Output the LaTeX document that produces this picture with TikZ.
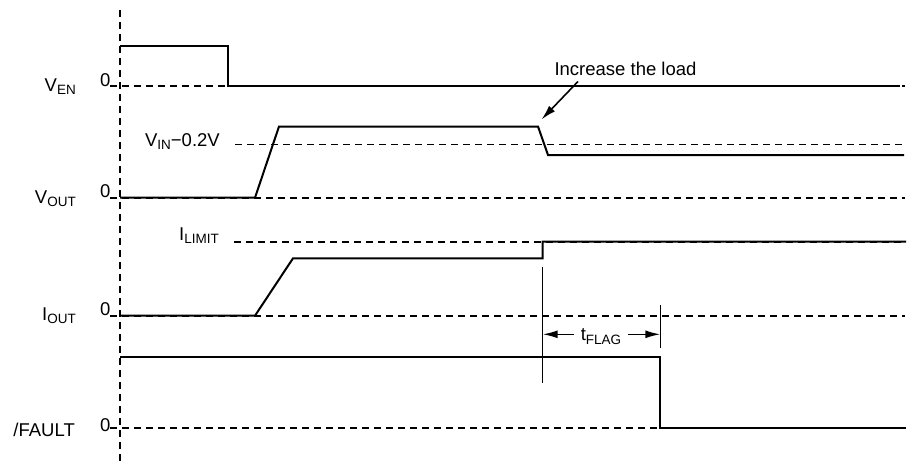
\documentclass[tikz,border=0pt]{standalone}
\usepackage{fontspec}
\setmainfont{Liberation Sans}
\usetikzlibrary{arrows.meta,positioning}
\newcommand{\sgn}[2]{#1\raisebox{-0.35ex}{\fontsize{13.5}{13.5}\selectfont #2}}

\begin{document}
\begin{tikzpicture}[x=1pt,y=-1pt,
font=\fontsize{18.5}{20}\selectfont,
wave/.style={line width=2pt,line join=miter},
ref/.style={line width=1.6pt,dash pattern=on 7pt off 5pt},
ticker/.style={line width=1.3pt},
signame/.style={anchor=base east,inner sep=0pt},
zerolab/.style={anchor=south east,inner sep=0pt},
oneway/.style={-{Latex[length=15pt,width=8pt]},line width=1.6pt},
scale=1]
    \useasboundingbox (0,0) rectangle (907,461);
    % Draw time axis
    \draw[ref] (120,10) -- (120,461);

    % zero levels
    \foreach \y/\lab in {86/EN,197.7/OUT,315.7/IOUT}{
        \draw[ref] (110,\y) -- (905,\y);
        \node[zerolab] (zero\lab) at (110.5,\y+0.5) {0};
    }
    \draw[ref] (110,427.7) -- (905,427.7);
    \node[anchor=east,inner sep=0pt] (zeroFAULT) at (110.5,425.5) {0};

    % signal names
    \node[signame] (ven) at (76,91) {\sgn{V}{EN}};
    \node[signame] (vout) at (76,203) {\sgn{V}{OUT}};
    \node[signame] (iout) at (76,320) {\sgn{I}{OUT}};
    \node[signame] (fault) at (75,436.5) {/FAULT};

    % reference levels
    \node[signame] (vin) at (220,146) {\sgn{V}{IN}−0.2V};
    \node[signame] (ilim) at (219,240) {\sgn{I}{LIMIT}};
    \draw[ref] (235,144.3) -- (905,144.3);
    \draw[ref] (234,241.7) -- (905,241.7);

    % waveforms
    \draw[wave] (120,46) -- (228,46) -- (228,86) -- (900,86);
    \draw[wave] (120,197.7) -- (255,197.7) -- (279,126.5) -- (538,126.5)
        -- (548,155) -- (904,155);
    \draw[wave] (120,315.7) -- (255,315.7) -- (293,258.3) -- (542.7,258.3)
        -- (542.7,241.7) -- (906,241.7);
    \draw[wave] (120,357.3) -- (660.3,357.3) -- (660.3,427.7) -- (906,427.7);

    % load step
    \node[anchor=base,inner sep=0pt] (load) at (625.5,75) {Increase the load};
    \coordinate (step) at (541.5,119.5);
    \draw[oneway] (578,81.5) -- (step);

    % flag delay
    \draw[ticker] (542.7,266.7) coordinate (t1) -- (542.7,383.3);
    \draw[ticker] (660.3,305) coordinate (t2) -- (660.3,347.7);
    \node[inner xsep=7pt,inner ysep=0pt] (tflag) at (601,336.5) {\sgn{t}{FLAG}};
    \draw[oneway] (tflag.west |- 0,334.3) -- (t1 |- 0,334.3);
    \draw[oneway] (tflag.east |- 0,334.3) -- (t2 |- 0,334.3);
\end{tikzpicture}
\end{document}
